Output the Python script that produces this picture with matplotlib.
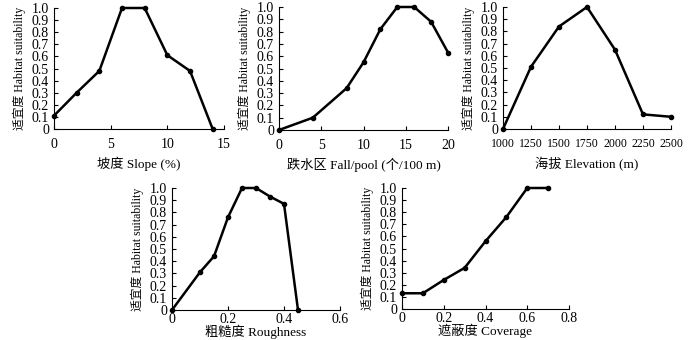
import matplotlib
matplotlib.use("Agg")
import matplotlib.pyplot as plt
from matplotlib.ticker import FuncFormatter

# === DATA ===
slope_x = [0, 2, 4, 6, 8, 10, 12, 14]
slope_y = [0.11, 0.30, 0.48, 1.0, 1.0, 0.61, 0.48, 0.0]

fall_x = [0, 4, 8, 10, 12, 14, 16, 18, 20]
fall_y = [0.0, 0.10, 0.34, 0.55, 0.82, 1.0, 1.0, 0.88, 0.63]

elev_x = [1000, 1250, 1500, 1750, 2000, 2250, 2500]
elev_y = [0.0, 0.51, 0.84, 1.0, 0.65, 0.12, 0.10]

rough_x = [0, 0.1, 0.15, 0.2, 0.25, 0.3, 0.35, 0.4, 0.45]
rough_y = [0.0, 0.31, 0.44, 0.76, 1.0, 1.0, 0.93, 0.87, 0.0]

cover_x = [0, 0.1, 0.2, 0.3, 0.4, 0.5, 0.6, 0.7]
cover_y = [0.13, 0.13, 0.24, 0.34, 0.56, 0.76, 1.0, 1.0]

ylabel = "适宜度 Habitat suitability"
FONT = ["Liberation Serif", "Noto Sans CJK SC"]
plt.rcParams["font.family"] = FONT

W, H = 700, 340

# (x, y, xlabel, xlim, xticks, xtick labels, x tick fontsize,
#  pixel box left/right/top/bottom, tick pad px, xlabel gap px)
panels = [
    (slope_x, slope_y, "坡度 Slope (%)", (0, 15), [0, 5, 10, 15], ["0", "5", "10", "15"], 10,
     (54, 224, 8, 129), 9, 28),
    (fall_x, fall_y, "跌水区 Fall/pool (个/100 m)", (0, 20), [0, 5, 10, 15, 20],
     ["0", "5", "10", "15", "20"], 10, (279, 448, 7, 130), 9, 28),
    (elev_x, elev_y, "海拔 Elevation (m)", (1000, 2500),
     [1000, 1250, 1500, 1750, 2000, 2250, 2500],
     ["1000", "1250", "1500", "1750", "2000", "2250", "2500"], 8.5, (503, 671, 7, 129), 9, 28),
    (rough_x, rough_y, "粗糙度 Roughness", (0, 0.6), [0, 0.2, 0.4, 0.6],
     ["0", "0.2", "0.4", "0.6"], 10, (172, 340, 188, 310), 3, 15),
    (cover_x, cover_y, "遮蔽度 Coverage", (0, 0.8), [0, 0.2, 0.4, 0.6, 0.8],
     ["0", "0.2", "0.4", "0.6", "0.8"], 10, (402, 569, 188, 309), 3, 15),
]

fig = plt.figure(figsize=(W / 100, H / 100), dpi=100)

yfmt = FuncFormatter(lambda v, p: "0" if abs(v) < 1e-9 else f"{v:.1f}")
PX = 72 / 100  # points per pixel

for xs, ys, xl, xlim, xt, xtl, xfs, (l, r, t, b), tpad, lgap in panels:
    w, h = r - l, b - t
    ax = fig.add_axes([l / W, 1 - b / H, w / W, h / H])
    ax.plot(xs, ys, color="black", lw=1.8, marker="o", ms=3, clip_on=False)
    ax.set_xlim(*xlim)
    ax.set_ylim(0, 1.0)
    ax.set_xticks(xt)
    ax.set_xticklabels(xtl)
    ax.set_yticks([i / 10 for i in range(11)])
    ax.yaxis.set_major_formatter(yfmt)
    ax.spines["top"].set_visible(False)
    ax.spines["right"].set_visible(False)
    for s in ("left", "bottom"):
        ax.spines[s].set_linewidth(0.8)
    ax.tick_params(direction="in", length=3, width=0.8)
    ax.tick_params(axis="y", labelsize=10, pad=5 * PX)
    ax.tick_params(axis="x", labelsize=xfs, pad=tpad * PX)
    ax.set_xlabel(xl, fontsize=9.5)
    ax.xaxis.set_label_coords(0.5, -lgap / h)
    ax.xaxis.label.set_va("top")
    ax.set_ylabel(ylabel, fontsize=8.5)
    ax.yaxis.set_label_coords(-28 / w, 0.5)

fig.savefig("out.png", dpi=100)
